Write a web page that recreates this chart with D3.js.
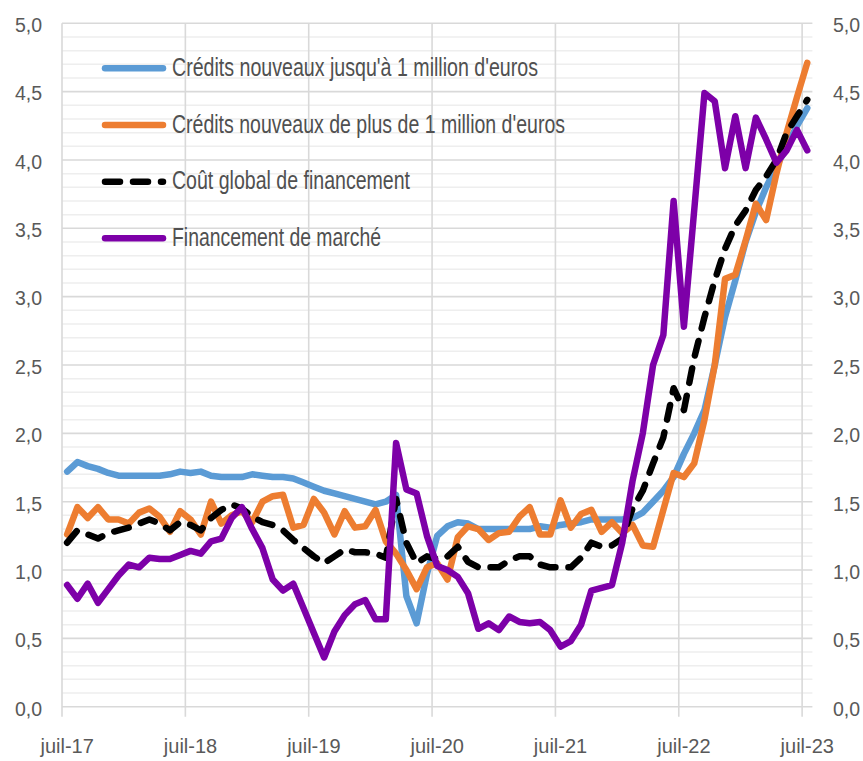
<!DOCTYPE html>
<html>
<head>
<meta charset="utf-8">
<script src="https://cdn.jsdelivr.net/npm/d3@7"></script>
<style>
  body { margin: 0; background: #fff; }
  svg text { font-family: "Liberation Sans", Arial, sans-serif; fill: #595959; }
</style>
</head>
<body>
<svg id="chart" width="863" height="761"></svg>
<script>
// axis labels
var tickLabels = ["juil-17", "juil-18", "juil-19", "juil-20", "juil-21", "juil-22", "juil-23"];
var yTicks = [0, 0.5, 1, 1.5, 2, 2.5, 3, 3.5, 4, 4.5, 5];

// monthly values, juil-17 .. juil-23 (73 months)
var creditsPetits = [
  1.72, 1.79, 1.76, 1.74, 1.71, 1.69, 1.69, 1.69, 1.69, 1.69,
  1.70, 1.72, 1.71, 1.72, 1.69, 1.68, 1.68, 1.68, 1.70, 1.69,
  1.68, 1.68, 1.67, 1.64, 1.61, 1.58, 1.56, 1.54, 1.52, 1.50,
  1.48, 1.50, 1.55, 0.81, 0.61, 0.97, 1.25, 1.32, 1.35, 1.34,
  1.30, 1.30, 1.30, 1.30, 1.30, 1.30, 1.32, 1.31, 1.33, 1.34,
  1.35, 1.37, 1.37, 1.37, 1.37, 1.38, 1.42, 1.50, 1.58, 1.68,
  1.85, 2.00, 2.17, 2.50, 2.85, 3.12, 3.40, 3.62, 3.80, 3.95,
  4.10, 4.25, 4.38
];
var creditsGrands = [
  1.26, 1.46, 1.38, 1.46, 1.37, 1.37, 1.34, 1.42, 1.45, 1.39,
  1.28, 1.43, 1.37, 1.26, 1.50, 1.34, 1.40, 1.43, 1.35, 1.50,
  1.54, 1.55, 1.31, 1.33, 1.52, 1.42, 1.26, 1.43, 1.31, 1.32,
  1.44, 1.21, 1.12, 1.00, 0.86, 1.02, 1.05, 0.93, 1.24, 1.32,
  1.30, 1.22, 1.27, 1.28, 1.39, 1.46, 1.26, 1.26, 1.51, 1.31,
  1.41, 1.44, 1.28, 1.35, 1.27, 1.33, 1.18, 1.17, 1.44, 1.71,
  1.68, 1.78, 2.10, 2.50, 3.13, 3.16, 3.41, 3.68, 3.56, 3.90,
  4.20, 4.46, 4.71
];
var coutGlobal = [
  1.20, 1.29, 1.26, 1.23, 1.27, 1.29, 1.31, 1.34, 1.37, 1.34,
  1.29, 1.35, 1.33, 1.29, 1.38, 1.44, 1.48, 1.45, 1.39, 1.35,
  1.33, 1.29, 1.22, 1.16, 1.10, 1.05, 1.10, 1.15, 1.13, 1.13,
  1.12, 1.09, 1.52, 1.20, 1.05, 1.10, 1.08, 1.10, 1.17, 1.06,
  1.02, 1.02, 1.02, 1.07, 1.10, 1.10, 1.04, 1.02, 1.02, 1.02,
  1.09, 1.20, 1.17, 1.18, 1.23, 1.45, 1.58, 1.78, 1.97, 2.33,
  2.17, 2.55, 2.85, 3.12, 3.35, 3.52, 3.63, 3.78, 3.88, 4.00,
  4.20, 4.32, 4.44
];
var financementMarche = [
  0.89, 0.79, 0.90, 0.76, 0.86, 0.96, 1.04, 1.02, 1.09, 1.08,
  1.08, 1.11, 1.14, 1.12, 1.21, 1.23, 1.38, 1.46, 1.30, 1.16,
  0.93, 0.85, 0.90, 0.72, 0.54, 0.36, 0.55, 0.67, 0.75, 0.78,
  0.64, 0.64, 1.93, 1.59, 1.56, 1.25, 1.03, 1.00, 0.95, 0.83,
  0.57, 0.61, 0.56, 0.66, 0.62, 0.61, 0.62, 0.56, 0.44, 0.48,
  0.60, 0.85, 0.87, 0.89, 1.20, 1.65, 2.00, 2.50, 2.72, 3.70,
  2.78, 3.63, 4.49, 4.43, 3.94, 4.32, 3.94, 4.31, 4.15, 3.98,
  4.07, 4.22, 4.07
];

var seriesNames = [
  "Crédits nouveaux jusqu'à 1 million d'euros",
  "Crédits nouveaux de plus de 1 million d'euros",
  "Coût global de financement",
  "Financement de marché"
];
var seriesColors = ["#5B9BD5", "#ED7D31", "#000000", "#7D00A8"];

var series = [creditsPetits, creditsGrands, coutGlobal, financementMarche].map(function (vals, k) {
  return { name: seriesNames[k], color: seriesColors[k], dashed: k == 2, values: vals };
});

var plotLeft = 62, plotRight = 812.4, plotTop = 23.3, plotBottom = 706.7;

var svg = d3.select("#chart");

var x = d3.scaleLinear().domain([0, 73]).range([plotLeft, plotRight]);
var y = d3.scaleLinear().domain([0, 5]).range([plotBottom, plotTop]);

// minor gridlines every 0.1
var minor = d3.range(1, 50).filter(function (d) { return d % 5 != 0; }).map(function (d) { return d / 10; });
svg.append("g").selectAll("line")
  .data(minor)
  .enter().append("line")
  .attr("x1", plotLeft).attr("x2", plotRight)
  .attr("y1", function (d) { return y(d); })
  .attr("y2", function (d) { return y(d); })
  .attr("stroke", "#EEEEEE")
  .attr("stroke-width", 1.5);

// major gridlines
svg.append("g").selectAll("line")
  .data(yTicks)
  .enter().append("line")
  .attr("x1", plotLeft).attr("x2", plotRight)
  .attr("y1", function (d) { return y(d); })
  .attr("y2", function (d) { return y(d); })
  .attr("stroke", "#D9D9D9")
  .attr("stroke-width", 1.6);

// vertical gridlines + ticks under the axis
svg.append("g").selectAll("line")
  .data(tickLabels)
  .enter().append("line")
  .attr("x1", function (d, i) { return x(i * 12); })
  .attr("x2", function (d, i) { return x(i * 12); })
  .attr("y1", plotTop)
  .attr("y2", plotBottom + 10)
  .attr("stroke", "#D9D9D9")
  .attr("stroke-width", 1.6);

// y labels both sides
var fmt = function (d) { return d3.format(".1f")(d).replace(".", ","); };
svg.append("g").selectAll("text")
  .data(yTicks)
  .enter().append("text")
  .attr("x", 42)
  .attr("y", function (d) { return y(d) + 2; })
  .attr("dy", "0.35em")
  .attr("text-anchor", "end")
  .style("font-size", "19.5px")
  .text(fmt);
svg.append("g").selectAll("text")
  .data(yTicks)
  .enter().append("text")
  .attr("x", 833)
  .attr("y", function (d) { return y(d) + 2; })
  .attr("dy", "0.35em")
  .attr("text-anchor", "start")
  .style("font-size", "19.5px")
  .text(fmt);

// x labels
svg.append("g").selectAll("text")
  .data(tickLabels)
  .enter().append("text")
  .attr("x", function (d, i) { return x(i * 12 + 0.5); })
  .attr("y", 753)
  .attr("text-anchor", "middle")
  .style("font-size", "20px")
  .text(function (d) { return d; });

// lines
var line = d3.line()
  .x(function (d, i) { return x(i + 0.5); })
  .y(function (d) { return y(d); });

svg.append("g").selectAll("path")
  .data(series)
  .enter().append("path")
  .attr("d", function (s) { return line(s.values); })
  .attr("fill", "none")
  .attr("stroke", function (s) { return s.color; })
  .attr("stroke-width", 6.5)
  .attr("stroke-linejoin", "round")
  .attr("stroke-linecap", "round")
  .attr("stroke-dasharray", function (s) { return s.dashed ? "15,13" : null; });

// legend (no box, the grid shows through)
var legendY = [68.3, 125, 181.7, 238.3];
var legendW = [366, 393, 238, 209];
var lg = svg.append("g").selectAll("g")
  .data(series)
  .enter().append("g")
  .attr("transform", function (s, i) { return "translate(0," + legendY[i] + ")"; });
lg.append("line")
  .attr("x1", 105).attr("x2", 163)
  .attr("y1", 0).attr("y2", 0)
  .attr("stroke", function (s) { return s.color; })
  .attr("stroke-width", 6.5)
  .attr("stroke-linecap", "round")
  .attr("stroke-dasharray", function (s) { return s.dashed ? "15,13" : null; });
lg.append("text")
  .attr("x", 172)
  .attr("y", 0)
  .attr("dy", "0.31em")
  .attr("textLength", function (s, i) { return legendW[i]; })
  .attr("lengthAdjust", "spacingAndGlyphs")
  .style("font-size", "25px")
  .style("fill", "#505050")
  .text(function (s) { return s.name; });
</script>
</body>
</html>
